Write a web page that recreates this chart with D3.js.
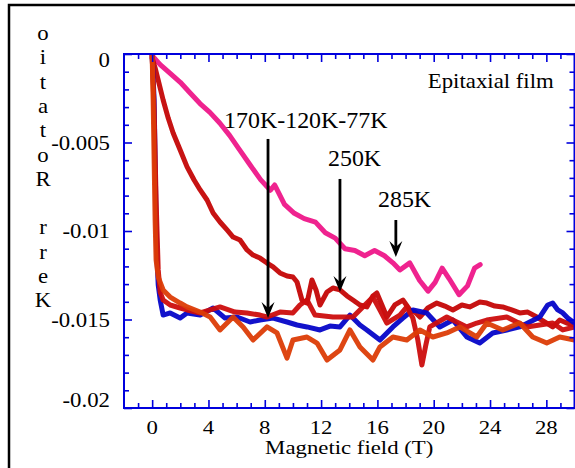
<!DOCTYPE html>
<html><head><meta charset="utf-8">
<script src="https://cdn.jsdelivr.net/npm/d3@7"></script>
<style>html,body{margin:0;padding:0;background:#fff;} svg{display:block}</style>
</head><body><svg id="c" width="575" height="468"></svg>
<script>
// ---------- data ----------
const xMajorTicks = [0,4,8,12,16,20,24,28];
const xTickLabels = ["0","4","8","12","16","20","24","28"];
const yMajorTicks = [0,-0.005,-0.01,-0.015,-0.02];
const yTickLabels = ["0","-0.005","-0.01","-0.015","-0.02"];
const xTitle = "Magnetic field (T)";
const yTitleLetters = ["o","i","t","a","t","o","R","","r","r","e","K"];

// 285K (pink)
const field285 = [0,0.57,1.28,2.0,2.7,3.4,4.1,4.8,5.5,6.2,6.9,7.7,8.4,8.7,9.4,10.1,10.8,11.6,12.3,13.0,13.7,14.4,15.1,15.8,16.5,17.1,17.6,18.3,19.0,19.6,20.1,20.6,21.1,21.8,22.4,22.9,23.3];
const kerr285 = [-0.0001,-0.0006,-0.0011,-0.0016,-0.0022,-0.0028,-0.0033,-0.0039,-0.0046,-0.0054,-0.0062,-0.0071,-0.0077,-0.0074,-0.0085,-0.0090,-0.0093,-0.0095,-0.0101,-0.0104,-0.0110,-0.0111,-0.0114,-0.0111,-0.0114,-0.0118,-0.0122,-0.0118,-0.0128,-0.0134,-0.0129,-0.0121,-0.0127,-0.0136,-0.0131,-0.0121,-0.0119];

// 250K (dark red)
const field250 = [0,0.21,0.43,0.78,1.14,1.49,1.99,2.48,2.98,3.41,3.9,4.33,4.82,5.32,5.75,6.24,6.74,7.17,7.66,8.16,8.59,9.08,9.58,10.0,10.29,10.64,11.0,11.35,11.64,11.92,12.42,12.84,13.34,13.84,14.26,14.76,15.25,15.68,15.96,16.32,16.67,17.24,17.81,18.31,18.66,19.02,19.58,20.22,20.79,21.36,22.0,22.56,23.27,23.77,24.34,24.9,25.54,26.11,26.68,27.32,27.88,28.45,28.95,29.45,30.0];
const kerr250 = [-0.00023,-0.00079,-0.00147,-0.0026,-0.00362,-0.00446,-0.00542,-0.00638,-0.00712,-0.00768,-0.00825,-0.00898,-0.00949,-0.00994,-0.01034,-0.01051,-0.01107,-0.01136,-0.01153,-0.01181,-0.01203,-0.01237,-0.01254,-0.0126,-0.01288,-0.0139,-0.01407,-0.01277,-0.01333,-0.01418,-0.01345,-0.01322,-0.01333,-0.01367,-0.0139,-0.01418,-0.01429,-0.01367,-0.0135,-0.01418,-0.01486,-0.01418,-0.0139,-0.01446,-0.01458,-0.01486,-0.01435,-0.01407,-0.01424,-0.01446,-0.01418,-0.01429,-0.01401,-0.01407,-0.01424,-0.01429,-0.01446,-0.01463,-0.01458,-0.01486,-0.01514,-0.01542,-0.01503,-0.0152,-0.01531];

// 77K (blue)
const field77 = [0,0.14,0.21,0.28,0.35,0.43,0.57,0.78,1.28,1.99,2.48,3.41,4.33,5.18,6.03,6.95,7.66,8.59,9.58,10.29,11.0,11.92,12.63,13.34,14.05,14.76,15.25,16.18,17.1,17.81,18.52,19.51,20.43,21.36,22.35,23.27,24.19,25.19,26.11,26.82,27.53,28.1,28.45,28.81,29.17,29.52,30.0];
const kerr77 = [-0.00011,-0.0026,-0.00599,-0.00938,-0.01164,-0.01305,-0.0139,-0.01475,-0.01463,-0.01492,-0.01463,-0.01475,-0.01435,-0.01492,-0.01486,-0.01514,-0.01503,-0.01492,-0.01514,-0.01531,-0.01542,-0.01559,-0.01537,-0.01542,-0.01475,-0.01531,-0.01559,-0.01616,-0.01542,-0.01492,-0.01446,-0.01463,-0.01542,-0.01503,-0.01599,-0.01633,-0.01576,-0.01559,-0.01542,-0.01514,-0.01486,-0.01418,-0.01407,-0.01446,-0.01463,-0.01492,-0.0152];

// 120K (red)
const field120 = [0,0.14,0.28,0.43,0.57,0.78,1.28,1.99,2.48,3.41,4.82,5.89,6.74,7.66,8.16,9.08,10.0,10.5,11.0,11.57,12.84,14.26,15.11,15.68,16.18,16.67,17.6,18.09,18.52,18.87,19.16,19.44,19.72,20.93,21.64,22.35,23.06,23.77,25.19,25.9,26.61,27.53,28.45,29.17,30.0];
const kerr120 = [-0.00011,-0.00316,-0.00825,-0.0122,-0.01345,-0.0139,-0.01418,-0.01435,-0.01446,-0.01463,-0.01429,-0.01458,-0.01463,-0.01475,-0.01486,-0.01458,-0.01463,-0.01418,-0.0139,-0.01475,-0.01486,-0.01486,-0.01418,-0.01373,-0.01446,-0.0152,-0.01475,-0.01429,-0.01492,-0.01616,-0.01757,-0.01644,-0.01542,-0.01486,-0.01514,-0.01542,-0.0152,-0.01503,-0.01486,-0.01514,-0.01542,-0.01531,-0.0152,-0.01559,-0.01542];

// 170K (orange)
const field170 = [0,0.07,0.14,0.21,0.28,0.43,0.78,1.28,1.99,2.48,3.41,4.12,4.82,5.75,6.46,7.17,8.16,8.87,9.58,10.0,11.0,11.71,12.42,13.34,14.05,14.76,15.68,16.18,17.1,18.09,19.02,19.94,20.93,21.85,23.06,23.77,24.9,26.11,27.03,28.03,28.95,30.0];
const kerr170 = [-0.00011,-0.0026,-0.00599,-0.00938,-0.01164,-0.0126,-0.01333,-0.01373,-0.01407,-0.01429,-0.01458,-0.01486,-0.01559,-0.01486,-0.01542,-0.01616,-0.01542,-0.01576,-0.01718,-0.01616,-0.01599,-0.01633,-0.01729,-0.01672,-0.01559,-0.01655,-0.01729,-0.01655,-0.01599,-0.01616,-0.01559,-0.01599,-0.01576,-0.01542,-0.01599,-0.0152,-0.01559,-0.0152,-0.01599,-0.01633,-0.01599,-0.01616];

const seriesNames = ["285K","250K","77K","120K","170K"];
const seriesColors = ["#ee1789","#c40606","#0505c8","#cc0d0d","#dc3c06"];

// annotations (data coordinates)
const annoTexts = ["170K-120K-77K","250K","285K","Epitaxial film"];
const annoTextField = [5.11,12.49,16.04,19.58];
const annoTextKerr = [-0.00418,-0.00633,-0.00864,-0.00192];
const arrowField = [8.23,13.34,17.31];
const arrowFromKerr = [-0.0048,-0.00706,-0.00938];
const arrowToKerr = [-0.01492,-0.01345,-0.01147];

// ---------- drawing ----------
const svg = d3.select("#c");
const W = 575, H = 468;
const x = d3.scaleLinear().domain([-2,30]).range([124,574.5]);
const y = d3.scaleLinear().domain([-0.02,0]).range([408,54]);
const FONT = "Liberation Serif";
const AXC = "#0000dd";

function txt(px,py,s,size,sx,anchor,fill){
  svg.append("text").attr("transform",`translate(${px},${py}) scale(${sx},1)`)
    .attr("text-anchor",anchor||"start").attr("fill",fill||"#000")
    .attr("font-family",FONT).attr("font-size",size).text(s);
}

svg.append("rect").attr("width",W).attr("height",H).attr("fill","#fff");
// outer black frame
svg.append("rect").attr("x",9).attr("y",5).attr("width",620).attr("height",520)
  .attr("fill","none").attr("stroke","#000").attr("stroke-width",2.5);

// clip
svg.append("defs").append("clipPath").attr("id","clip").append("rect")
  .attr("x",124).attr("y",54).attr("width",450.5).attr("height",354);

const data = [[field285,kerr285],[field250,kerr250],[field77,kerr77],[field120,kerr120],[field170,kerr170]];
const line = d3.line().x(d=>x(d[0])).y(d=>y(d[1])).curve(d3.curveLinear);
const gData = svg.append("g").attr("clip-path","url(#clip)");
data.forEach((s,i)=>{
  const pts = s[0].map((f,j)=>[f,s[1][j]]);
  gData.append("path").datum(pts).attr("d",line).attr("fill","none")
    .attr("stroke",seriesColors[i]).attr("stroke-width",5)
    .attr("stroke-linejoin","round").attr("stroke-linecap","round").attr("opacity",0.95);
});

// ticks with d3 axes (inward), no labels
const xMinor = d3.range(-1,30).filter(v=>!xMajorTicks.includes(v));
const yMinor = d3.range(-19,0).filter(v=>v%5!==0).map(v=>v/1000);
function styleAxis(g){ g.select(".domain").remove(); g.selectAll("line").attr("stroke",AXC).attr("stroke-width",1.6); }
[[xMajorTicks,8],[xMinor,5]].forEach(([vals,len])=>{
  svg.append("g").attr("transform","translate(0,408)")
    .call(d3.axisBottom(x).tickValues(vals).tickSize(-len).tickFormat("")).call(styleAxis);
  svg.append("g").attr("transform","translate(0,54)")
    .call(d3.axisTop(x).tickValues(vals).tickSize(-len).tickFormat("")).call(styleAxis);
});
[[yMajorTicks,8],[yMinor,5]].forEach(([vals,len])=>{
  svg.append("g").attr("transform","translate(124,0)")
    .call(d3.axisLeft(y).tickValues(vals).tickSize(-len).tickFormat("")).call(styleAxis);
  svg.append("g").attr("transform","translate(574.5,0)")
    .call(d3.axisRight(y).tickValues(vals).tickSize(-len).tickFormat("")).call(styleAxis);
});
// frame
svg.append("rect").attr("x",124).attr("y",54).attr("width",450.5).attr("height",354)
  .attr("fill","none").attr("stroke",AXC).attr("stroke-width",2);

// tick labels
yMajorTicks.forEach((v,i)=>{
  const py = Math.max(60,Math.min(400,y(v)))+7;
  txt(110,py,yTickLabels[i],20,1.14,"end");
});
xMajorTicks.forEach((v,i)=>{ txt(x(v),434,xTickLabels[i],19,1.2,"middle"); });
txt((x.range()[0]+x.range()[1])/2,454,xTitle,19,1.2,"middle");
yTitleLetters.forEach((c,i)=>{ if(c) txt(43,40+i*24.3,c,20,1.14,"middle"); });

// annotations
annoTexts.forEach((s,i)=>{
  const sz = i===3?20:23, sx = i===3?1.14:1.04;
  txt(x(annoTextField[i]),y(annoTextKerr[i]),s,sz,sx,"start");
});
arrowField.forEach((f,i)=>{
  const px = x(f), y0 = y(arrowFromKerr[i]), tip = y(arrowToKerr[i]);
  svg.append("line").attr("x1",px).attr("x2",px).attr("y1",y0).attr("y2",tip-8)
    .attr("stroke","#000").attr("stroke-width",2.8);
  svg.append("path").attr("d",`M${px},${tip} L${px-6.5},${tip-16} L${px},${tip-10} L${px+6.5},${tip-16} Z`)
    .attr("fill","#000");
});
</script></body></html>
